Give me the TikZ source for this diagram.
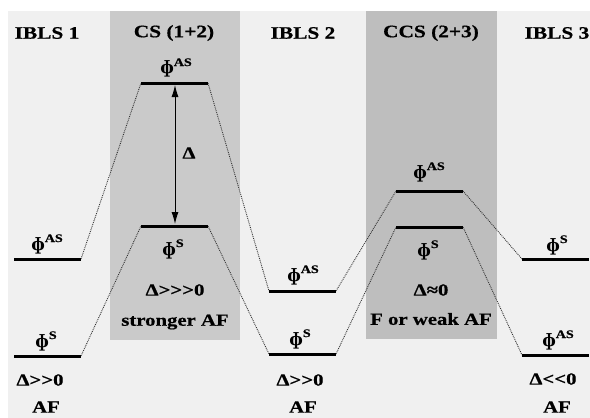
\documentclass[tikz,border=0pt]{standalone}
\usepackage{fontspec}
\setmainfont{Liberation Serif}
\newfontfamily\wfont[FakeStretch=1.22,FakeBold=0.6]{Liberation Serif}
\newfontfamily\phifont{DejaVu Serif}
\usetikzlibrary{arrows.meta}
\definecolor{bgc}{HTML}{F0F0F0}
\definecolor{csc}{HTML}{CACACA}
\definecolor{ccsc}{HTML}{BEBEBE}
\tikzset{
  lvl/.style={line width=3pt},
  conn/.style={densely dotted, line width=0.9pt, black!80},
  hdr/.style={font=\wfont\bfseries\fontsize{17.5}{20}\selectfont, inner sep=0pt},
  lab/.style={font=\wfont\bfseries\fontsize{17}{20}\selectfont, inner sep=0pt},
  phil/.style={inner sep=0pt}
}
\newcommand{\phiAS}{{\phifont\bfseries\fontsize{17}{19}\selectfont ɸ}\raisebox{8pt}{\wfont\bfseries\fontsize{11.5}{12}\selectfont AS}}
\newcommand{\phiS}{{\phifont\bfseries\fontsize{17}{19}\selectfont ɸ}\raisebox{8pt}{\wfont\bfseries\fontsize{11.5}{12}\selectfont S}}
\begin{document}
\begin{tikzpicture}[x=1pt,y=-1pt]
\useasboundingbox (0,0) rectangle (590,418);
\fill[white] (0,0) rectangle (590,418);
\fill[bgc] (8,11) rectangle (590,418);
\fill[csc] (110,11) rectangle (240,340);
\fill[ccsc] (366,11) rectangle (497,339);
% headers
\node[hdr] (h1) at (47,33) {IBLS 1};
\node[hdr] (h2) at (174,33) {CS (1+2)};
\node[hdr] (h3) at (303,33) {IBLS 2};
\node[hdr] (h4) at (431,33) {CCS (2+3)};
\node[hdr] (h5) at (557,33) {IBLS 3};
% level coordinates
\coordinate (a1l) at (14,259); \coordinate (a1r) at (81,259);
\coordinate (s1l) at (14,356); \coordinate (s1r) at (81,356);
\coordinate (a2l) at (141,83); \coordinate (a2r) at (208,83);
\coordinate (s2l) at (141,226); \coordinate (s2r) at (208,226);
\coordinate (a3l) at (269,291); \coordinate (a3r) at (336,291);
\coordinate (s3l) at (269,354); \coordinate (s3r) at (336,354);
\coordinate (a4l) at (396,191); \coordinate (a4r) at (463,191);
\coordinate (s4l) at (396,227); \coordinate (s4r) at (463,227);
\coordinate (s5l) at (522,259); \coordinate (s5r) at (589,259);
\coordinate (a5l) at (522,355); \coordinate (a5r) at (589,355);
% connectors
\draw[conn] (a1r) -- (a2l);
\draw[conn] (s1r) -- (s2l);
\draw[conn] (a2r) -- (a3l);
\draw[conn] (s2r) -- (s3l);
\draw[conn] (a3r) -- (a4l);
\draw[conn] (s3r) -- (s4l);
\draw[conn] (a4r) -- (s5l);
\draw[conn] (s4r) -- (a5l);
% levels
\foreach \p in {a1,s1,a2,s2,a3,s3,a4,s4,s5,a5}
  \draw[lvl] (\p l) -- (\p r);
% gap arrow
\coordinate (dt) at (175,85);
\coordinate (db) at (175,224);
\draw[{Latex[length=12pt,width=7pt]}-{Latex[length=12pt,width=7pt]}, line width=0.9pt] (dt) -- (db);
\node[lab] (dl) at (189,153) {Δ};
% phi labels
\node[phil] (p1a) at (47,244) {\phiAS};
\node[phil] (p1s) at (46,341) {\phiS};
\node[phil] (p2a) at (176,68) {\phiAS};
\node[phil] (p2s) at (173,249) {\phiS};
\node[phil] (p3a) at (303,275) {\phiAS};
\node[phil] (p3s) at (300,339) {\phiS};
\node[phil] (p4a) at (429,172) {\phiAS};
\node[phil] (p4s) at (428,250) {\phiS};
\node[phil] (p5s) at (557,245) {\phiS};
\node[phil] (p5a) at (558,340) {\phiAS};
% bottom labels
\node[lab] (d1) at (40,380) {Δ>>0};
\node[lab] (f1) at (46,407) {AF};
\node[lab] (d2) at (175,290) {Δ>>>0};
\node[lab] (f2) at (175,322) {stronger AF};
\node[lab] (d3) at (300,380) {Δ>>0};
\node[lab] (f3) at (303,407) {AF};
\node[lab] (d4) at (431,290) {Δ≈0};
\node[lab] (f4) at (431,319) {F or weak AF};
\node[lab] (d5) at (553,379) {Δ<<0};
\node[lab] (f5) at (557,407) {AF};
\end{tikzpicture}
\end{document}
